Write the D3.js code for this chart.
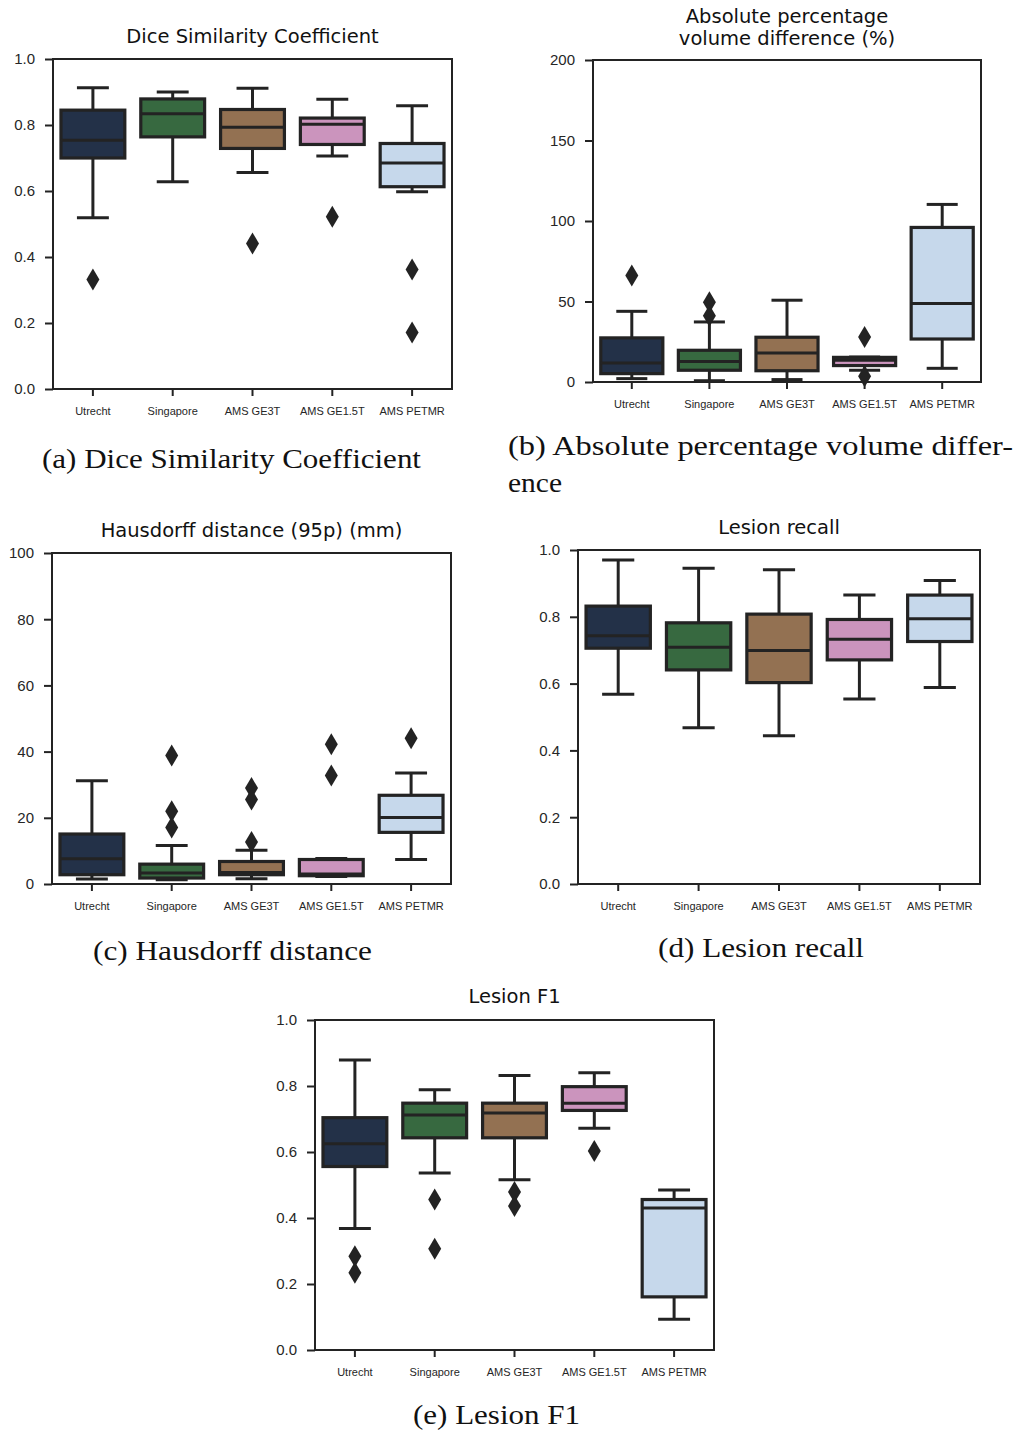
<!DOCTYPE html>
<html>
<head>
<meta charset="utf-8">
<script src="https://cdn.jsdelivr.net/npm/d3@7/dist/d3.min.js"></script>
<style>
  body { margin: 0; background: #fff; }
  .tick text { fill: #262626; }
</style>
</head>
<body>
<script>
// sites, one box per site
const sites = ["Utrecht", "Singapore", "AMS GE3T", "AMS GE1.5T", "AMS PETMR"];
const fills = ["#233148", "#376940", "#937152", "#cb94bd", "#c6d8eb"];

// [low whisker, q1, median, q3, high whisker]
const dscStats = [
  [0.519, 0.700, 0.754, 0.845, 0.913],
  [0.628, 0.764, 0.834, 0.879, 0.900],
  [0.656, 0.729, 0.793, 0.847, 0.911],
  [0.706, 0.741, 0.802, 0.821, 0.878],
  [0.598, 0.613, 0.685, 0.744, 0.858]
];
const dscOutliers = [[0.332], [], [0.441], [0.522], [0.362, 0.171]];

const avdStats = [
  [2.1, 5.2, 11.8, 27.4, 43.9],
  [0.8, 7.3, 12.8, 19.7, 37.3],
  [1.5, 7.0, 18.0, 27.8, 50.8],
  [7.3, 10.2, 13.5, 15.3, 15.5],
  [8.5, 26.7, 48.7, 96.0, 110.3]
];
const avdOutliers = [[66.1], [49.5, 41.2], [], [28.0, 3.5], []];

const hdStats = [
  [1.5, 2.8, 7.6, 15.1, 31.2],
  [1.3, 1.8, 3.3, 6.0, 11.6],
  [1.6, 2.8, 3.5, 6.8, 10.2],
  [2.3, 2.5, 3.0, 7.4, 7.7],
  [7.4, 15.6, 20.1, 26.8, 33.5]
];
const hdOutliers = [[], [38.8, 22.0, 17.1], [29.0, 25.5, 12.7], [42.2, 32.8], [44.0]];

const recallStats = [
  [0.568, 0.706, 0.743, 0.832, 0.970],
  [0.468, 0.641, 0.709, 0.782, 0.945],
  [0.444, 0.603, 0.699, 0.808, 0.941],
  [0.554, 0.671, 0.733, 0.792, 0.865],
  [0.588, 0.726, 0.794, 0.865, 0.909]
];
const recallOutliers = [[], [], [], [], []];

const f1Stats = [
  [0.368, 0.556, 0.625, 0.704, 0.879],
  [0.536, 0.643, 0.712, 0.748, 0.789],
  [0.516, 0.643, 0.718, 0.748, 0.832],
  [0.672, 0.726, 0.748, 0.798, 0.840],
  [0.093, 0.161, 0.430, 0.456, 0.485]
];
const f1Outliers = [[0.284, 0.234], [0.456, 0.307], [0.479, 0.436], [0.603], []];

const unitTicks = [0, 0.2, 0.4, 0.6, 0.8, 1.0];
const avdTicks = [0, 50, 100, 150, 200];
const hdTicks = [0, 20, 40, 60, 80, 100];

const svg = d3.select("body").append("svg")
  .attr("width", 1016)
  .attr("height", 1434)
  .style("font-family", "'DejaVu Sans', sans-serif");

const ink = "#232323";

function panel(o) {
  const g = svg.append("g");
  const x = d3.scaleBand().domain(sites).range([o.left, o.right]).paddingInner(0).paddingOuter(0);
  const y = d3.scaleLinear().domain([0, o.max]).range([o.bottom, o.top]);
  const bw = x.bandwidth() * 0.8;

  // frame
  g.append("rect")
    .attr("x", o.left).attr("y", o.top)
    .attr("width", o.right - o.left).attr("height", o.bottom - o.top)
    .attr("fill", "none").attr("stroke", ink).attr("stroke-width", 2);

  const ya = g.append("g").attr("transform", `translate(${o.left},0)`)
    .call(d3.axisLeft(y).tickValues(o.ticks).tickFormat(o.fmt).tickSize(8).tickPadding(10));
  ya.select(".domain").remove();
  ya.selectAll("line").attr("stroke", ink).attr("stroke-width", 2);
  ya.selectAll("text").style("font-size", "15px");

  const xa = g.append("g").attr("transform", `translate(0,${o.bottom})`)
    .call(d3.axisBottom(x).tickSize(7).tickPadding(11));
  xa.select(".domain").remove();
  xa.selectAll("line").attr("stroke", ink).attr("stroke-width", 2);
  xa.selectAll("text").style("font-size", "11px");

  o.stats.forEach((s, i) => {
    const cx = x(sites[i]) + x.bandwidth() / 2;
    const b = g.append("g");
    // whiskers
    b.append("line").attr("x1", cx).attr("x2", cx).attr("y1", y(s[0])).attr("y2", y(s[1]))
      .attr("stroke", ink).attr("stroke-width", 3);
    b.append("line").attr("x1", cx).attr("x2", cx).attr("y1", y(s[3])).attr("y2", y(s[4]))
      .attr("stroke", ink).attr("stroke-width", 3);
    [s[0], s[4]].forEach(v => {
      b.append("line").attr("x1", cx - bw / 4).attr("x2", cx + bw / 4)
        .attr("y1", y(v)).attr("y2", y(v))
        .attr("stroke", ink).attr("stroke-width", 3);
    });
    b.append("rect")
      .attr("x", cx - bw / 2).attr("y", y(s[3]))
      .attr("width", bw).attr("height", y(s[1]) - y(s[3]))
      .attr("fill", fills[i]).attr("stroke", ink).attr("stroke-width", 3.2);
    b.append("line").attr("x1", cx - bw / 2).attr("x2", cx + bw / 2)
      .attr("y1", y(s[2])).attr("y2", y(s[2]))
      .attr("stroke", ink).attr("stroke-width", 3);
    o.outliers[i].forEach(v => {
      b.append("path")
        .attr("d", `M${cx},${y(v) - 11}L${cx + 6.5},${y(v)}L${cx},${y(v) + 11}L${cx - 6.5},${y(v)}Z`)
        .attr("fill", ink);
    });
  });

  o.title.forEach((t, k) => {
    g.append("text")
      .attr("x", (o.left + o.right) / 2)
      .attr("y", o.titleY + k * 22)
      .attr("text-anchor", "middle")
      .attr("fill", "#111")
      .style("font-size", "19.5px")
      .text(t);
  });
}

const f1 = d3.format(".1f");
const f0 = d3.format("d");

panel({left: 53, right: 452, top: 59, bottom: 389, max: 1, ticks: unitTicks, fmt: f1,
  stats: dscStats, outliers: dscOutliers, title: ["Dice Similarity Coefficient"], titleY: 43});
panel({left: 593, right: 981, top: 60, bottom: 382, max: 200, ticks: avdTicks, fmt: f0,
  stats: avdStats, outliers: avdOutliers, title: ["Absolute percentage", "volume difference (%)"], titleY: 23});
panel({left: 52, right: 451, top: 553, bottom: 884, max: 100, ticks: hdTicks, fmt: f0,
  stats: hdStats, outliers: hdOutliers, title: ["Hausdorff distance (95p) (mm)"], titleY: 537});
panel({left: 578, right: 980, top: 550, bottom: 884, max: 1, ticks: unitTicks, fmt: f1,
  stats: recallStats, outliers: recallOutliers, title: ["Lesion recall"], titleY: 534});
panel({left: 315, right: 714, top: 1020, bottom: 1350, max: 1, ticks: unitTicks, fmt: f1,
  stats: f1Stats, outliers: f1Outliers, title: ["Lesion F1"], titleY: 1003});

// sub-figure captions (serif, stretched to the reference widths)
const captions = [
  {t: "(a) Dice Similarity Coefficient", x: 42, y: 468, w: 379},
  {t: "(b) Absolute percentage volume differ-", x: 508, y: 455, w: 505},
  {t: "ence", x: 508, y: 492, w: 54},
  {t: "(c) Hausdorff distance", x: 93, y: 960, w: 279},
  {t: "(d) Lesion recall", x: 658, y: 957, w: 206},
  {t: "(e) Lesion F1", x: 413, y: 1424, w: 167}
];
svg.append("g")
  .style("font-family", "'Liberation Serif', 'DejaVu Serif', serif")
  .style("font-size", "27px")
  .attr("fill", "#111")
  .selectAll("text").data(captions).join("text")
  .attr("x", d => d.x).attr("y", d => d.y)
  .attr("textLength", d => d.w).attr("lengthAdjust", "spacingAndGlyphs")
  .text(d => d.t);
</script>
</body>
</html>
